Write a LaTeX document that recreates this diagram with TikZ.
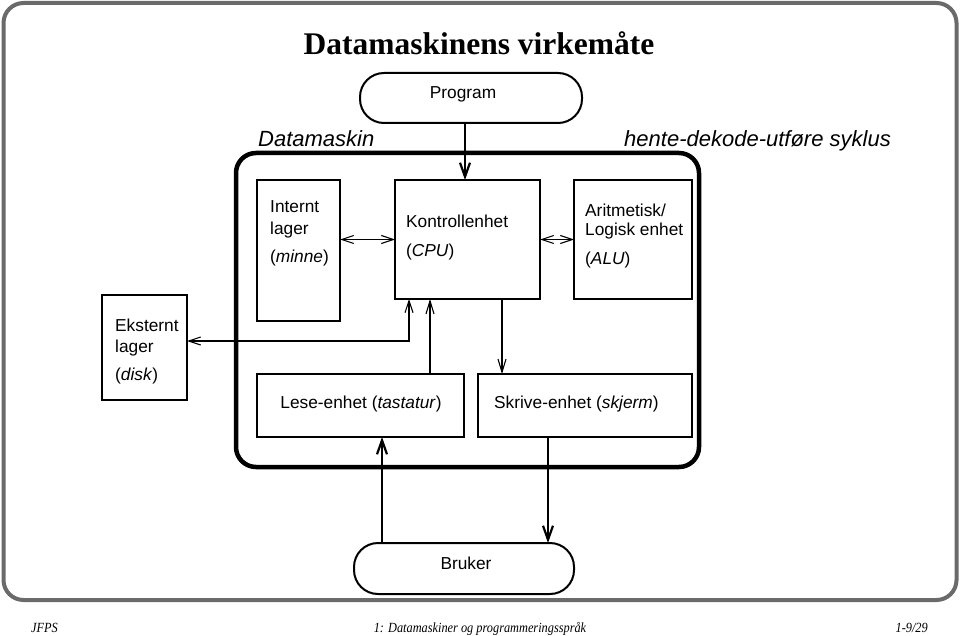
\documentclass[tikz,border=0pt]{standalone}
\usepackage{fontspec}
\setmainfont{Liberation Serif}
\setsansfont{Liberation Sans}
\newfontfamily\footfont[FakeStretch=0.88]{Liberation Serif}
\usetikzlibrary{arrows.meta,calc}
\definecolor{framegray}{HTML}{6A6A6A}
\begin{document}
\begin{tikzpicture}[x=1pt,y=-1pt,
  box/.style={draw,line width=1.2pt,inner sep=0pt,outer sep=0pt},
  pill/.style={draw,line width=2pt,rounded corners=24pt,inner sep=0pt,outer sep=0pt,font=\sffamily\fontsize{17}{20}\selectfont},
  txt/.style={anchor=base west,inner sep=0pt,font=\sffamily\fontsize{17.3}{20}\selectfont},
  lbl/.style={inner sep=0pt,font=\sffamily\itshape\fontsize{22}{26}\selectfont},
  tarr/.style={line width=1.1pt,-{Straight Barb[length=13pt,width=8pt]}},
  tarrb/.style={line width=1.1pt,{Straight Barb[length=12pt,width=8pt]}-{Straight Barb[length=12pt,width=8pt]}},
  karr/.style={line width=2.2pt,-{Straight Barb[length=14pt,width=10pt]}},
  foot/.style={inner sep=0pt,font=\footfont\itshape\fontsize{14}{16}\selectfont}
]
\useasboundingbox (0,0) rectangle (960,636);
% outer frame
\node[draw=framegray,line width=4pt,rounded corners=20pt,inner sep=0pt,minimum width=953pt,minimum height=597pt] (frame) at (480,301.5) {};
% title
\node[inner sep=0pt,anchor=base,font=\bfseries\fontsize{31.5}{36}\selectfont] (title) at (479,55) {Datamaskinens virkemåte};
% computer frame
\node[draw,line width=4.5pt,rounded corners=20pt,inner sep=0pt,minimum width=463pt,minimum height=314pt] (dm) at (467.5,310) {};
\node[lbl,anchor=base west] (dmlbl) at (258,147) {Datamaskin};
\node[lbl,anchor=base east] (cyc) at (891,147) {hente-dekode-utføre syklus};
% pills
\node[pill,minimum width=222pt,minimum height=50pt] (prog) at (471,98) {};
\node[txt,anchor=base] (progt) at (463,99) {Program};
\node[pill,minimum width=220pt,minimum height=51pt] (bruker) at (464,568.5) {};
\node[txt,anchor=base] (brukert) at (466,569) {Bruker};
% boxes
\node[box,minimum width=83pt,minimum height=141pt] (intern) at (298.5,250.5) {};
\node[box,minimum width=145pt,minimum height=119pt] (ctrl) at (467.5,239.5) {};
\node[box,minimum width=118pt,minimum height=119pt] (alu) at (633,239.5) {};
\node[box,minimum width=85pt,minimum height=105pt] (ekst) at (144.5,347.5) {};
\node[box,minimum width=207pt,minimum height=63pt] (lese) at (360.5,405.5) {};
\node[box,minimum width=214pt,minimum height=63pt] (skrive) at (585,405.5) {};
% box texts
\node[txt] (i1) at (270,213) {Internt};
\node[txt] (i2) at (270,234) {lager};
\node[txt] (i3) at (270,262) {(\textit{minne})};
\node[txt] (c1) at (406,228) {Kontrollenhet};
\node[txt] (c2) at (406,256) {(\textit{CPU})};
\node[txt] (a1) at (585,217) {Aritmetisk/};
\node[txt] (a2) at (585,236) {Logisk enhet};
\node[txt] (a3) at (585,264) {(\textit{ALU})};
\node[txt] (e1) at (115,331) {Eksternt};
\node[txt] (e2) at (115,352) {lager};
\node[txt] (e3) at (115,380) {(\textit{disk})};
\node[txt,anchor=base] (lt) at (361,408) {Lese-enhet (\textit{tastatur})};
\node[txt] (st) at (494,408) {Skrive-enhet (\textit{skjerm})};
% helper coordinates
\coordinate (pa) at ([xshift=-6pt]prog.south);
\coordinate (ek) at ([yshift=6.5pt]ekst.east);
\coordinate (cx1) at ([xshift=-58.5pt]ctrl.south);
\coordinate (cx2) at ([xshift=-37.5pt]ctrl.south);
\coordinate (cx3) at ([xshift=34.5pt]ctrl.south);
\coordinate (b1) at ([xshift=-82pt]bruker.north);
\coordinate (b2) at ([xshift=84pt]bruker.north);
% connectors
\draw[karr] (pa) -- (pa |- ctrl.north);
\draw[tarrb] (intern.east |- ctrl.center) -- (ctrl.west);
\draw[tarrb] (ctrl.east) -- (alu.west);
\draw[tarrb] (ek) -| (cx1);
\draw[tarr] (cx2 |- lese.north) -- (cx2);
\draw[tarr] (cx3) -- (cx3 |- skrive.north);
\draw[karr] (b1) -- (b1 |- lese.south);
\draw[karr] (b2 |- skrive.south) -- (b2);
% footer
\node[foot,anchor=base west] (f1) at (31,632) {JFPS};
\node[foot,anchor=base] (f2) at (480,632) {1: Datamaskiner og programmeringsspråk};
\node[foot,anchor=base east] (f3) at (928,632) {1-9/29};
\end{tikzpicture}
\end{document}
